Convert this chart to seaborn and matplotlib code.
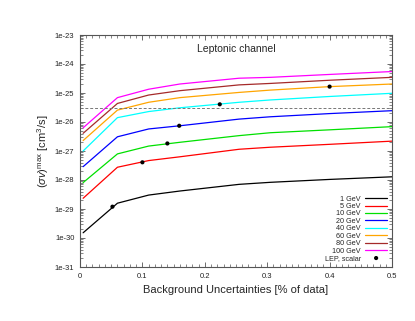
import numpy as np
import pandas as pd
import matplotlib
matplotlib.use("Agg")
import matplotlib.pyplot as plt
import matplotlib.ticker as mticker
import seaborn as sns

# background uncertainty (% of data) where the curves were read
bkg = [0.005, 0.06, 0.11, 0.16, 0.255, 0.305, 0.4, 0.5]

# log10 of the upper limit on <sigma v> [cm^3/s], one list per DM mass
masses = ["1 GeV", "5 GeV", "10 GeV", "20 GeV", "40 GeV", "60 GeV", "80 GeV", "100 GeV"]
log_1gev = [-29.82, -28.80, -28.52, -28.38, -28.15, -28.08, -27.98, -27.89]
log_5gev = [-28.63, -27.56, -27.33, -27.20, -26.94, -26.87, -26.77, -26.66]
log_10gev = [-28.09, -27.10, -26.83, -26.70, -26.47, -26.37, -26.27, -26.16]
log_20gev = [-27.54, -26.51, -26.24, -26.13, -25.90, -25.82, -25.71, -25.61]
log_40gev = [-27.00, -25.85, -25.64, -25.51, -25.32, -25.24, -25.12, -25.01]
log_60gev = [-26.64, -25.59, -25.32, -25.16, -24.98, -24.90, -24.78, -24.69]
log_80gev = [-26.39, -25.36, -25.07, -24.92, -24.72, -24.67, -24.56, -24.46]
log_100gev = [-26.20, -25.16, -24.87, -24.69, -24.49, -24.46, -24.36, -24.26]

# LEP bound on a scalar mediator
lep_x = [0.052, 0.10, 0.14, 0.159, 0.224, 0.40]
lep_log = [-28.92, -27.39, -26.74, -26.13, -25.39, -24.78]

thermal = 3e-26
ytick_exp = [-23, -24, -25, -26, -27, -28, -29, -30, -31]

colors = ["black", "red", "#00e000", "blue", "cyan", "orange", "brown", "magenta"]
curves = [log_1gev, log_5gev, log_10gev, log_20gev, log_40gev, log_60gev, log_80gev, log_100gev]

rows = []
for m, vals in zip(masses, curves):
    for x, v in zip(bkg, vals):
        rows.append({"bkg": x, "sv": 10 ** v, "mass": m})
df = pd.DataFrame(rows)
lep = pd.DataFrame({"bkg": lep_x, "sv": 10 ** np.array(lep_log)})

sns.set_theme(style="ticks")
plt.rcParams["font.family"] = ["Liberation Sans", "DejaVu Sans"]
plt.rcParams["mathtext.fontset"] = "custom"
plt.rcParams["mathtext.rm"] = "Liberation Sans"
plt.rcParams["mathtext.it"] = "Liberation Sans:italic"

fig = plt.figure(figsize=(4.15, 3.21), dpi=100)
ax = fig.add_axes([80 / 415, 1 - 267 / 321, 312 / 415, 232 / 321])
ax.set_yscale("log")

for m, c in zip(masses, colors):
    sns.lineplot(data=df[df["mass"] == m], x="bkg", y="sv", color=c,
                 lw=0.9, label=m, ax=ax)

ax.axhline(thermal, color="#777777", lw=0.7, ls=(0, (3, 2)))

sns.scatterplot(data=lep, x="bkg", y="sv", color="black", s=9,
                edgecolor="none", label="LEP, scalar", ax=ax, zorder=5)

ax.set_xlim(0, 0.5)
ax.set_ylim(1e-31, 1e-23)
ax.xaxis.set_major_locator(mticker.MultipleLocator(0.1))
ax.xaxis.set_minor_locator(mticker.MultipleLocator(0.01))
ax.xaxis.set_major_formatter(mticker.FormatStrFormatter("%g"))
ax.set_yticks([10.0 ** e for e in ytick_exp], [f"1e{e}" for e in ytick_exp])
minor = [k * 10.0 ** e for e in ytick_exp[1:] for k in range(2, 10)]
ax.set_yticks(minor, minor=True)
ax.yaxis.set_minor_formatter(mticker.NullFormatter())

ax.tick_params(which="both", direction="in", top=True, right=True,
               color="#555555", labelsize=5.5, labelcolor="#222222", pad=4)
ax.tick_params(which="major", length=3.5, width=0.6)
ax.tick_params(which="minor", length=2, width=0.5)
for sp in ax.spines.values():
    sp.set_color("#555555")
    sp.set_linewidth(0.8)

ax.set_xlabel("Background Uncertainties [% of data]", fontsize=8, labelpad=4)
ax.set_ylabel(r"$(\sigma v)^{\rm max}$ [cm$^3$/s]", fontsize=8, labelpad=3)
ax.text(0.5, 0.96, "Leptonic channel", transform=ax.transAxes,
        ha="center", va="top", fontsize=7.5)

ax.legend(loc="lower right", markerfirst=False, frameon=False, fontsize=5.2,
          labelspacing=0.05, handlelength=3.0, handletextpad=0.6,
          borderaxespad=0.5, borderpad=0.2)

fig.savefig("out.png", dpi=100)
